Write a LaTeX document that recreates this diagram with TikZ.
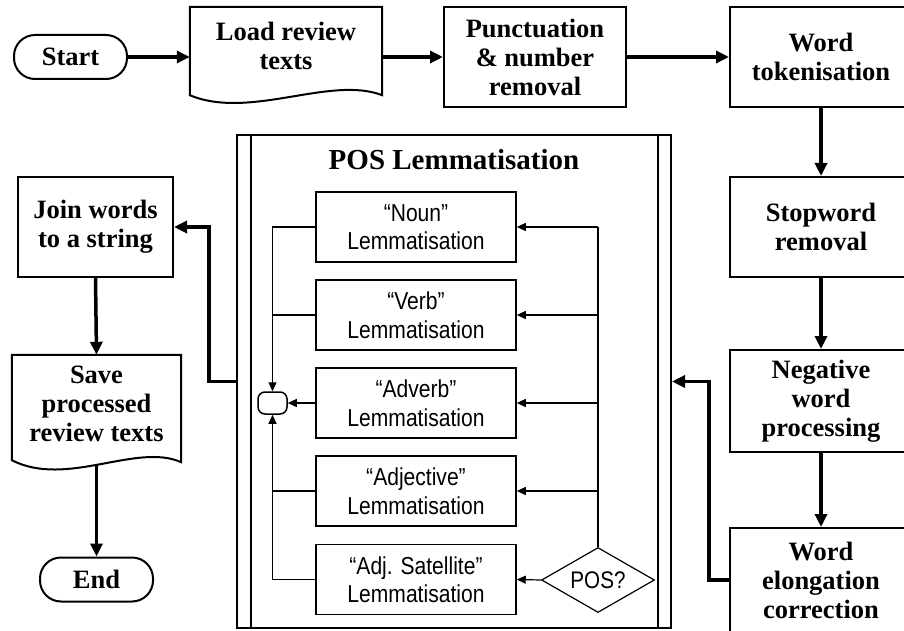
\documentclass[tikz,border=0pt]{standalone}
\usepackage{fontspec}
\setmainfont{Liberation Serif}
\newfontfamily\boxsans{Liberation Sans}[FakeStretch=0.86]
\usetikzlibrary{arrows.meta,shapes.geometric}

\begin{document}
\begin{tikzpicture}[x=1pt,y=-1pt,
  boldtext/.style={align=center, inner sep=0pt, font=\bfseries\fontsize{26.5}{29}\selectfont},
  flowbox/.style={boldtext, draw, line width=2pt, minimum width=182pt, minimum height=100pt},
  terminal/.style={boldtext, draw, line width=2pt, rounded corners=21pt, minimum width=113pt, minimum height=44pt},
  docarea/.style={draw=none, inner sep=0pt},
  docline/.style={line width=2pt, line join=miter},
  lembox/.style={draw, line width=1.5pt, minimum width=200pt, minimum height=70pt, align=center, inner sep=0pt, font=\boxsans\fontsize{24.5}{28.5}\selectfont},
  flowarrow/.style={line width=3.5pt, -{Triangle[length=13pt,width=12pt]}},
  thinarrow/.style={line width=1.2pt, -{Triangle[length=9pt,width=8pt]}},
  thinline/.style={line width=1.2pt}
]
\useasboundingbox (0,0) rectangle (904,631);

% top row
\node[terminal] (start) at (70.5,57) {Start};
\node[docarea, minimum width=192pt, minimum height=100pt] (load) at (286,57) {};
\draw[docline] (load.north west) -- (load.north east) -- ([yshift=12pt]load.south east)
  .. controls +(-52,-20) and +(60,25) .. ([yshift=12pt]load.south west) -- cycle;
\node[boldtext] (loadtxt) at (286,46) {Load review\\texts};
\node[flowbox] (punct) at (535,57) {Punctuation\\\& number\\removal};
\node[flowbox] (token) at (821,57) {Word\\tokenisation};

% right column
\node[flowbox] (stop) at (821,227) {Stopword\\removal};
\node[flowbox, minimum height=102pt] (neg) at (821,401) {Negative\\word\\processing};
\node[flowbox, minimum height=104pt] (elong) at (821,580) {Word\\elongation\\correction};

% POS lemmatisation frame
\node[draw, line width=2pt, minimum width=434pt, minimum height=493pt] (pos) at (454,381.5) {};
\draw[line width=2pt] ([xshift=15pt]pos.north west) -- ([xshift=15pt]pos.south west);
\draw[line width=2pt] ([xshift=-14pt]pos.north east) -- ([xshift=-14pt]pos.south east);
\node[boldtext, font=\bfseries\fontsize{29}{31}\selectfont] (postitle) at (454,160) {POS Lemmatisation};

\node[lembox] (noun) at (416,227) {“Noun”\\Lemmatisation};
\node[lembox] (verb) at (416,315) {“Verb”\\Lemmatisation};
\node[lembox] (adverb) at (416,403) {“Adverb”\\Lemmatisation};
\node[lembox] (adj) at (416,491) {“Adjective”\\Lemmatisation};
\node[lembox] (sat) at (416,579.5) {“Adj. Satellite”\\Lemmatisation};

\node[draw, line width=1.5pt, rounded corners=7pt, minimum width=29pt, minimum height=22pt, inner sep=0pt] (merge) at (272.5,403) {};
\node[diamond, draw, line width=1.2pt, minimum width=113pt, minimum height=65pt, inner sep=0pt, aspect=1.7, font=\boxsans\fontsize{24}{26}\selectfont] (dia) at (598,580) {POS?};

% branches from the decision
\draw[thinline] (dia.north) -- (dia.north |- noun.east);
\draw[thinarrow] (dia.north |- noun.east) -- (noun.east);
\draw[thinarrow] (dia.north |- verb.east) -- (verb.east);
\draw[thinarrow] (dia.north |- adverb.east) -- (adverb.east);
\draw[thinarrow] (dia.north |- adj.east) -- (adj.east);
\draw[thinarrow] (dia.west) -- (sat.east);

% results gathered at the merge point
\draw[thinarrow] (noun.west) -| (merge.north);
\draw[thinline] (verb.west) -- (verb.west -| merge.north);
\draw[thinarrow] (adverb.west) -- (merge.east);
\draw[thinline] (adj.west) -- (adj.west -| merge.south);
\draw[thinarrow] (sat.west) -| (merge.south);

% left column
\node[flowbox, minimum width=155pt] (join) at (95.5,227) {Join words\\to a string};
\node[docarea, minimum width=169pt, minimum height=120pt] (save) at (96.5,415) {};
\draw[docline] (save.north west) -- (save.north east) -- ([yshift=13pt]save.south east)
  .. controls +(-45,-20) and +(55,28) .. ([yshift=15pt]save.south west) -- cycle;
\node[boldtext] (savetxt) at (96.5,404) {Save\\processed\\review texts};
\node[terminal] (end) at (96.5,579.5) {End};

% main flow
\draw[flowarrow] (start.east) -- (load.west);
\draw[flowarrow] (load.east) -- (punct.west);
\draw[flowarrow] (punct.east) -- (token.west);
\draw[flowarrow] (token.south) -- (stop.north);
\draw[flowarrow] (stop.south) -- (neg.north);
\draw[flowarrow] (neg.south) -- (elong.north);
\draw[flowarrow] (elong.west) -- ++(-20,0) |- (pos.east);
\draw[flowarrow] (pos.west) -- ++(-27,0) |- (join.east);
\draw[flowarrow] (join.south) -- (save.north);
\draw[flowarrow] ([yshift=10pt]save.south) -- (end.north);
\end{tikzpicture}
\end{document}
